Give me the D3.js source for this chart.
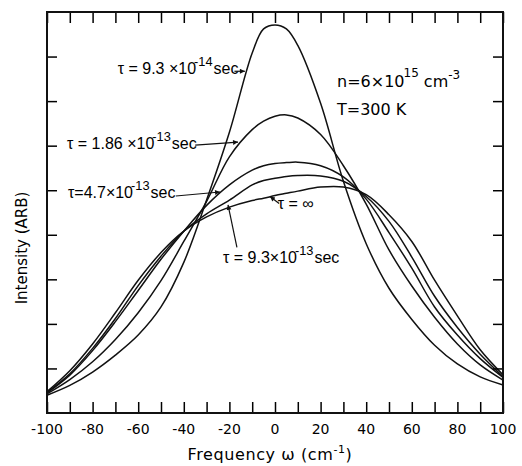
<!DOCTYPE html>
<html>
<head>
<meta charset="utf-8">
<script src="https://cdn.jsdelivr.net/npm/d3@7"></script>
<style>
  body { margin: 0; background: #fff; }
  svg { display: block; font-family: "DejaVu Sans", sans-serif; }
  .note { font-family: "Liberation Sans", Arial, sans-serif; }
</style>
</head>
<body>
<div id="chart"></div>
<script>
// frequency grid (cm^-1) shared by all curves
const omega = [-100,-90,-80,-70,-60,-50,-40,-30,-20,-10,-5,0,5,10,20,30,40,50,60,70,80,90,100];

// intensity (arb.), one array per collision time
const tau93e14  = [0.40,0.62,0.92,1.30,1.75,2.38,3.38,4.78,6.30,8.08,8.62,8.71,8.62,8.25,6.95,5.20,3.80,2.80,2.10,1.52,1.10,0.81,0.63];
const tau186e13 = [0.43,0.75,1.15,1.65,2.25,2.97,3.85,4.75,5.75,6.36,6.55,6.66,6.69,6.62,6.25,5.55,4.69,3.66,2.85,2.15,1.55,1.08,0.74];
const tau47e13  = [0.45,0.85,1.40,2.05,2.75,3.45,4.08,4.66,5.12,5.45,5.55,5.60,5.62,5.63,5.55,5.30,4.80,4.05,3.25,2.38,1.75,1.22,0.80];
const tau93e13  = [0.46,0.88,1.45,2.12,2.86,3.52,4.08,4.47,4.78,5.12,5.22,5.27,5.31,5.33,5.32,5.20,4.86,4.30,3.50,2.62,1.92,1.32,0.82];
const tauInf    = [0.48,0.95,1.55,2.25,2.98,3.60,4.08,4.40,4.62,4.77,4.82,4.88,4.93,4.98,5.07,5.07,4.90,4.45,3.85,2.98,2.18,1.42,0.86];

const xTicks = d3.range(-100, 101, 10);
const xLabels = [-100,-80,-60,-40,-20,0,20,40,60,80,100];
const yTicks = [1,2,3,4,5,6,7,8];

const series = [tau93e14, tau186e13, tau47e13, tau93e13, tauInf];

var margin = {top: 12, right: 19, bottom: 53, left: 47},
    width = 522,
    height = 466;

const svg = d3.select("#chart").append("svg")
  .attr("width", width).attr("height", height);

const x = d3.scaleLinear().domain([-100, 100]).range([margin.left, width - margin.right]);
const y = d3.scaleLinear().domain([0, 9]).range([height - margin.bottom, margin.top]);

// curves
const line = d3.line()
  .x((d, i) => x(omega[i]))
  .y(d => y(d))
  .curve(d3.curveCatmullRom.alpha(0.5));

svg.append("g")
  .selectAll("path")
  .data(series)
  .join("path")
    .attr("d", line)
    .attr("fill", "none")
    .attr("stroke", "#111")
    .attr("stroke-width", 1.5);

// axes: ticks point inward on all four sides
svg.append("g")
  .attr("transform", `translate(0,${y(0)})`)
  .call(d3.axisBottom(x).tickValues(xTicks).tickSize(-11).tickFormat(""))
  .call(g => g.select(".domain").remove())
  .call(g => g.selectAll(".tick line").attr("stroke-width", 1.5));

svg.append("g")
  .attr("transform", `translate(0,${y(9)})`)
  .call(d3.axisTop(x).tickValues(xTicks).tickSize(-11).tickFormat(""))
  .call(g => g.select(".domain").remove())
  .call(g => g.selectAll(".tick line").attr("stroke-width", 1.5));

svg.append("g")
  .attr("transform", `translate(${x(-100)},0)`)
  .call(d3.axisLeft(y).tickValues(yTicks).tickSize(-10).tickFormat(""))
  .call(g => g.select(".domain").remove())
  .call(g => g.selectAll(".tick line").attr("stroke-width", 1.5));

svg.append("g")
  .attr("transform", `translate(${x(100)},0)`)
  .call(d3.axisRight(y).tickValues(yTicks).tickSize(-10).tickFormat(""))
  .call(g => g.select(".domain").remove())
  .call(g => g.selectAll(".tick line").attr("stroke-width", 1.5));

svg.append("rect")
  .attr("x", x(-100)).attr("y", y(9))
  .attr("width", x(100) - x(-100)).attr("height", y(0) - y(9))
  .attr("fill", "none").attr("stroke", "#111").attr("stroke-width", 2);

// tick labels
svg.append("g")
  .selectAll("text")
  .data(xLabels)
  .join("text")
    .attr("x", d => x(d))
    .attr("y", y(0) + 21)
    .attr("text-anchor", "middle")
    .style("font-size", "14px")
    .text(d => d);

// axis titles
const xt = svg.append("text")
  .attr("x", 270).attr("y", 460)
  .attr("text-anchor", "middle")
  .style("font-size", "16px")
  .style("letter-spacing", "0.6px");
xt.append("tspan").text("Frequency   ω   (cm");
xt.append("tspan").attr("dy", -7).style("font-size", "11px").text("-1");
xt.append("tspan").attr("dy", 7).text(")");

svg.append("text")
  .attr("transform", `translate(27,${248}) rotate(-90)`)
  .attr("text-anchor", "middle")
  .style("font-size", "15px")
  .text("Intensity  (ARB)");

// labels with a raised exponent
function sciLabel(px, py, pre, exp, post, size) {
  const t = svg.append("text").attr("class", "note")
    .attr("x", px).attr("y", py).style("font-size", size + "px");
  t.append("tspan").text(pre);
  t.append("tspan").attr("dx", -2).attr("dy", -size * 0.5)
    .style("font-size", (size * 0.8) + "px").text(exp);
  t.append("tspan").attr("dx", 1).attr("dy", size * 0.5).text(post);
  return t;
}

sciLabel(x(-69), y(7.6), "τ = 9.3 ×10", "-14", "sec", 16);
sciLabel(x(-91.2), y(5.92), "τ = 1.86 ×10", "-13", "sec", 16);
sciLabel(x(-90.8), y(4.82), "τ=4.7×10", "-13", "sec", 16);
sciLabel(x(-22.8), y(3.36), "τ = 9.3×10", "-13", "sec", 16);
svg.append("text").attr("class", "note")
  .attr("x", x(1.2)).attr("y", y(4.58)).style("font-size", "16px").text("τ = ∞");

const nt = svg.append("text").attr("x", 337).attr("y", 87).style("font-size", "16px");
nt.append("tspan").text("n=6×10");
nt.append("tspan").attr("dx", -1).attr("dy", -10).style("font-size", "12px").text("15");
nt.append("tspan").attr("dy", 10).text("  cm");
nt.append("tspan").attr("dx", 0).attr("dy", -8).style("font-size", "12px").text("-3");
svg.append("text").attr("x", 337).attr("y", 115).style("font-size", "16px").text("T=300 K");

// arrows, from label to curve, in data units
const arrows = [
  {from: [-17.8, 7.67], to: [-13.2, 7.67]},
  {from: [-35, 6.01], to: [-16.2, 6.08]},
  {from: [-43.5, 4.87], to: [-24.1, 4.96]},
  {from: [-16.7, 3.72], to: [-20.6, 4.67]},
  {from: [1.8, 4.70], to: [-2.2, 4.86]}
];

svg.append("defs").append("marker")
  .attr("id", "head")
  .attr("viewBox", "0 0 10 10")
  .attr("refX", 10).attr("refY", 5)
  .attr("markerWidth", 7).attr("markerHeight", 5)
  .attr("orient", "auto")
  .attr("markerUnits", "userSpaceOnUse")
  .append("path").attr("d", "M0,0L10,5L0,10Z").attr("fill", "#111");

svg.append("g")
  .selectAll("line")
  .data(arrows)
  .join("line")
    .attr("x1", d => x(d.from[0])).attr("y1", d => y(d.from[1]))
    .attr("x2", d => x(d.to[0])).attr("y2", d => y(d.to[1]))
    .attr("stroke", "#111").attr("stroke-width", 1.2)
    .attr("marker-end", "url(#head)");
</script>
</body>
</html>
